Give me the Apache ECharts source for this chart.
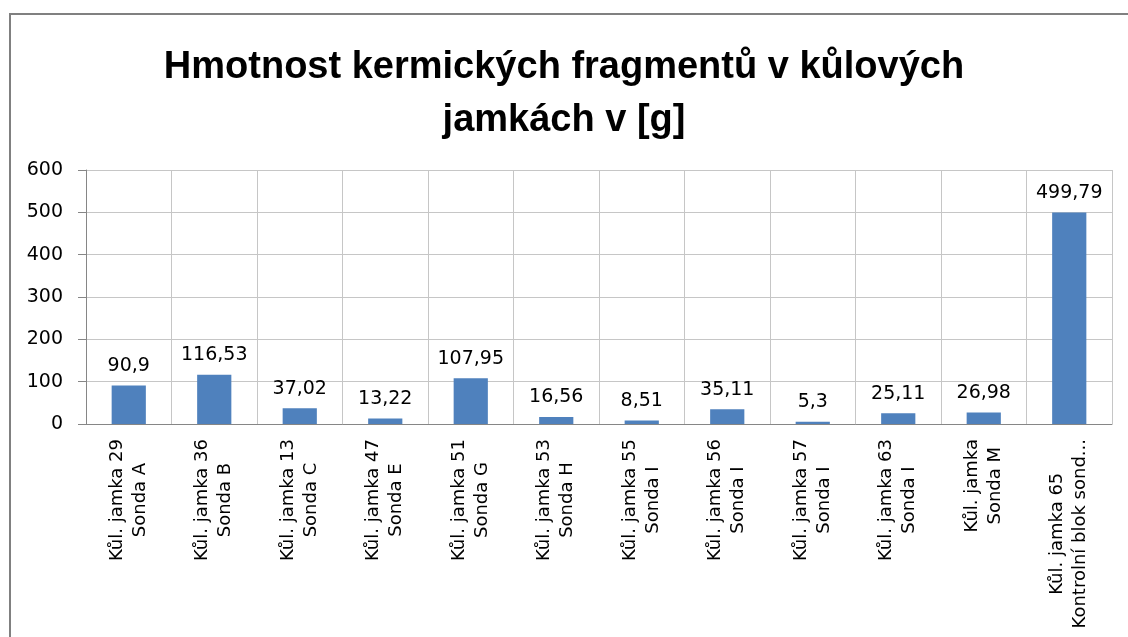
<!DOCTYPE html>
<html>
<head>
<meta charset="utf-8">
<script src="https://cdn.jsdelivr.net/npm/echarts@6/dist/echarts.min.js"></script>
<style>
html,body{margin:0;padding:0;background:#fff;}
#c{width:1128px;height:637px;}
</style>
</head>
<body>
<div id="c"></div>
<script>
const titleText = "Hmotnost kermických fragmentů v kůlových\njamkách v [g]";
const categories = [
  "Kůl. jamka 29\nSonda A",
  "Kůl. jamka 36\nSonda B",
  "Kůl. jamka 13\nSonda C",
  "Kůl. jamka 47\nSonda E",
  "Kůl. jamka 51\nSonda G",
  "Kůl. jamka 53\nSonda H",
  "Kůl. jamka 55\nSonda I",
  "Kůl. jamka 56\nSonda I",
  "Kůl. jamka 57\nSonda I",
  "Kůl. jamka 63\nSonda I",
  "Kůl. jamka\nSonda M",
  "Kůl. jamka 65\nKontrolní blok sond..."
];
const values = [90.9, 116.53, 37.02, 13.22, 107.95, 16.56, 8.51, 35.11, 5.3, 25.11, 26.98, 499.79];
const yTicks = { min: 0, max: 600, interval: 100 };

const chart = echarts.init(document.getElementById('c'), null, { renderer: 'canvas' });
const fontFam = 'DejaVu Sans';
chart.setOption({
  animation: false,
  backgroundColor: '#fff',
  graphic: [{
    type: 'rect',
    shape: { x: 10, y: 14, width: 1140, height: 650 },
    style: { fill: 'none', stroke: '#808080', lineWidth: 2 },
    silent: true
  }],
  title: {
    text: titleText,
    left: 'center',
    top: 36,
    textStyle: {
      fontFamily: 'Liberation Sans',
      fontWeight: 'bold',
      fontSize: 38,
      lineHeight: 53,
      color: '#000'
    }
  },
  grid: { left: 86, right: 16, top: 170, bottom: 213, containLabel: false },
  xAxis: {
    type: 'category',
    data: categories,
    boundaryGap: true,
    axisLine: { show: true, lineStyle: { color: '#868686', width: 1 } },
    axisTick: { show: false },
    splitLine: { show: true, interval: 0, lineStyle: { color: '#c6c6c6', width: 1 } },
    axisLabel: {
      interval: 0,
      rotate: 90,
      margin: 15,
      color: '#000',
      fontFamily: fontFam,
      fontSize: 18,
      lineHeight: 23,
      formatter: function (v) {
        return v.split('\n').map(function (s) { return '{a|' + s + '}'; }).join('\n');
      },
      rich: {
        a: { align: 'center', fontFamily: fontFam, fontSize: 18, lineHeight: 23, color: '#000' }
      }
    }
  },
  yAxis: {
    type: 'value',
    min: yTicks.min,
    max: yTicks.max,
    interval: yTicks.interval,
    axisLine: { show: true, lineStyle: { color: '#868686', width: 1 } },
    axisTick: { show: true, length: 8, lineStyle: { color: '#868686' } },
    splitLine: { show: true, lineStyle: { color: '#c6c6c6', width: 1 } },
    axisLabel: {
      margin: 23,
      color: '#000',
      fontFamily: fontFam,
      fontSize: 19
    }
  },
  series: [{
    type: 'bar',
    data: values,
    barWidth: '40%',
    itemStyle: { color: '#4F81BD' },
    label: {
      show: true,
      position: 'top',
      distance: 10,
      color: '#000',
      fontFamily: fontFam,
      fontSize: 19,
      formatter: function (p) { return String(p.value).replace('.', ','); }
    }
  }]
});
</script>
</body>
</html>
